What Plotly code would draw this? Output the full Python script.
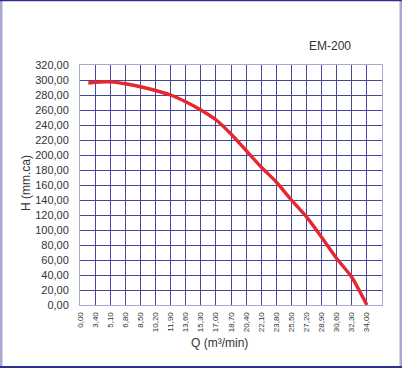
import plotly.graph_objects as go

# Category labels along the Q axis (m³/min)
q_labels = ["0,00", "3,40", "5,10", "6,80", "8,50", "10,20", "11,90", "13,60", "15,30",
            "17,00", "18,70", "20,40", "22,10", "23,80", "25,50", "27,20", "28,90",
            "30,60", "32,30", "34,00"]
q_positions = list(range(len(q_labels)))

# Curve: category position (index) and head H (mm.ca)
curve_pos = [0.55, 1, 2, 3, 4, 5, 6, 7, 8, 9, 10, 11, 12, 13, 14, 15, 16, 17, 18, 19]
curve_h = [296, 297, 297.5, 295, 291, 286, 280, 271, 260, 247, 228, 206, 184, 164,
           140, 117.5, 90.5, 62, 37, 0]

h_ticks = list(range(0, 321, 20))
h_labels = [f"{v},00" for v in h_ticks]

W, H = 402, 368
L, R, T, B = 80, 20, 65, 63
pw, ph = W - L - R, H - T - B

def fx(px):
    return (px - L) / pw

def fy(py):
    return 1 - (py - T) / ph

grid_col = "#4446a0"
frame_col = "#a9a9d4"
navy = "#2e3192"

fig = go.Figure()
fig.add_trace(go.Scatter(
    x=curve_pos, y=curve_h, mode="lines",
    line=dict(color="#e8262d", width=3.4, shape="spline", smoothing=0.6),
    hoverinfo="skip", showlegend=False,
))

fig.update_layout(
    width=W, height=H,
    margin=dict(l=L, r=R, t=T, b=B, autoexpand=False),
    paper_bgcolor="white", plot_bgcolor="white",
    font=dict(family="Liberation Sans, Arial, sans-serif", color="#333333"),
    xaxis=dict(
        range=[0, 20], tickmode="array", tickvals=q_positions, ticktext=q_labels,
        tickangle=-90, tickfont=dict(size=8, color="#333333"),
        showgrid=True, gridcolor=grid_col, gridwidth=1,
        zeroline=False, automargin=False,
        showline=True, linecolor=frame_col, linewidth=1, mirror=True,
        ticks="outside", ticklen=3, tickcolor="rgba(0,0,0,0)",
    ),
    yaxis=dict(
        range=[0, 320], tickmode="array", tickvals=h_ticks, ticktext=h_labels,
        tickfont=dict(size=11, color="#333333"),
        showgrid=True, gridcolor=grid_col, gridwidth=1, zeroline=False, automargin=False,
        showline=True, linecolor=frame_col, linewidth=1, mirror=True,
        ticks="outside", ticklen=8, tickcolor="rgba(0,0,0,0)",
    ),
    shapes=[
        dict(type="rect", xref="paper", yref="paper", x0=fx(0), x1=fx(2.5), y0=fy(0), y1=fy(H),
             fillcolor=frame_col, line=dict(width=0), layer="above"),
        dict(type="rect", xref="paper", yref="paper", x0=fx(399.5), x1=fx(W), y0=fy(0), y1=fy(H),
             fillcolor=frame_col, line=dict(width=0), layer="above"),
        dict(type="rect", xref="paper", yref="paper", x0=fx(0), x1=fx(W), y0=fy(0), y1=fy(1.2),
             fillcolor=navy, line=dict(width=0), layer="above"),
        dict(type="rect", xref="paper", yref="paper", x0=fx(0), x1=fx(W), y0=fy(366), y1=fy(H),
             fillcolor=navy, line=dict(width=0), layer="above"),
    ],
    annotations=[
        dict(text="EM-200", xref="paper", yref="paper", x=fx(330), y=fy(46),
             xanchor="center", yanchor="middle", showarrow=False,
             font=dict(size=12, color="#333333")),
        dict(text="H (mm.ca)", xref="paper", yref="paper", x=fx(26), y=fy(183),
             xanchor="center", yanchor="middle", showarrow=False, textangle=-90,
             font=dict(size=12, color="#333333")),
        dict(text="Q (m³/min)", xref="paper", yref="paper", x=fx(219), y=fy(343),
             xanchor="center", yanchor="middle", showarrow=False,
             font=dict(size=12, color="#333333")),
    ],
)

fig.write_html("out.html", post_script="document.body.style.margin='0';",
               config={"displayModeBar": False})
